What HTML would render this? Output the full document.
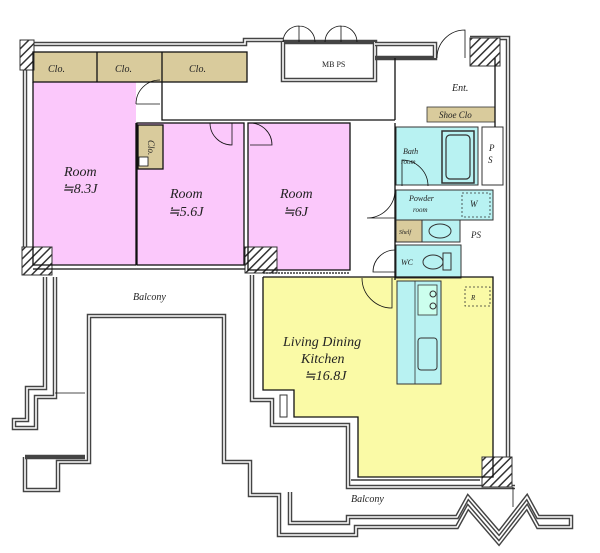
<!DOCTYPE html>
<html><head><meta charset="utf-8"><style>
html,body{margin:0;padding:0;background:#fff;}
svg{display:block}
.t{font-family:"Liberation Serif",serif;font-style:italic;fill:#222}
.w1{fill:none;stroke:#444;stroke-width:4.5}
.w2{fill:none;stroke:#fff;stroke-width:1.6}
.ln{fill:none;stroke:#111;stroke-width:1.3}
.th{fill:none;stroke:#111;stroke-width:0.8}
</style></head><body>
<svg width="600" height="553" viewBox="0 0 600 553" xmlns="http://www.w3.org/2000/svg">
<defs>
<pattern id="h" width="6" height="6" patternUnits="userSpaceOnUse" patternTransform="rotate(45)">
<rect width="6" height="6" fill="#fff"/><rect width="1.5" height="6" fill="#333"/></pattern>
</defs>

<rect x="33" y="82" width="103" height="183" fill="#fbc8fb"/>
<rect x="137" y="123" width="107" height="142" fill="#fbc8fb"/>
<rect x="248" y="123" width="102" height="147" fill="#fbc8fb"/>
<rect x="33" y="52" width="214" height="30" fill="#d9cb9c"/>
<rect x="138" y="125" width="25" height="44" fill="#d9cb9c"/>
<rect x="139" y="157" width="9" height="9" fill="#fff" stroke="#111" stroke-width="0.8"/>
<polygon points="263,277 493,277 493,477 358,477 358,417 294,417 294,390 263,390" fill="#fafaa6"/>
<rect x="427" y="107" width="68" height="15" fill="#d9cb9c" stroke="#333" stroke-width="0.8"/>
<rect x="396" y="127" width="82" height="58" fill="#b8f2f2" stroke="#333" stroke-width="1"/>
<rect x="442" y="131" width="32" height="52" fill="none" stroke="#333" stroke-width="1.5"/>
<rect x="446" y="135" width="24" height="44" rx="4" fill="none" stroke="#333" stroke-width="1.2"/>
<rect x="396" y="190" width="97" height="30" fill="#b8f2f2" stroke="#333" stroke-width="1"/>
<rect x="462" y="193" width="28" height="24" fill="none" stroke="#333" stroke-width="0.8" stroke-dasharray="2,2"/>
<rect x="396" y="220" width="26" height="22" fill="#d9cb9c" stroke="#333" stroke-width="1"/>
<rect x="422" y="220" width="38" height="22" fill="#b8f2f2" stroke="#333" stroke-width="1"/>
<ellipse cx="440" cy="231" rx="11" ry="7" fill="none" stroke="#333"/>
<rect x="396" y="245" width="65" height="33" fill="#b8f2f2" stroke="#333" stroke-width="1"/>
<ellipse cx="433" cy="262" rx="10" ry="7" fill="none" stroke="#333"/>
<rect x="443" y="253" width="8" height="17" fill="none" stroke="#333"/>
<rect x="482" y="127" width="21" height="58" fill="#fff" stroke="#333" stroke-width="1"/>
<rect x="397" y="281" width="44" height="103" fill="#b8f2f2" stroke="#333" stroke-width="1"/>
<line x1="415" y1="281" x2="415" y2="384" stroke="#333" stroke-width="0.8"/>
<rect x="418" y="285" width="19" height="30" fill="#cfe" stroke="#333" stroke-width="0.8"/>
<circle cx="433" cy="294" r="3" fill="none" stroke="#333"/><circle cx="433" cy="306" r="3" fill="none" stroke="#333"/>
<rect x="418" y="338" width="19" height="32" rx="3" fill="none" stroke="#333" stroke-width="1"/>
<rect x="465" y="287" width="25" height="19" fill="none" stroke="#333" stroke-width="0.8" stroke-dasharray="2,2"/>

<g>
<polyline class="w1" points="25,44 245,44 245,40 283,40"/><polyline class="w2" points="25,44 245,44 245,40 283,40"/>
<polyline class="w1" points="25,44 25,270"/><polyline class="w2" points="25,44 25,270"/>
<polyline class="w1" points="283,42 283,80 375,80 375,42 283,42"/><polyline class="w2" points="283,42 283,80 375,80 375,42"/>
<polyline class="w1" points="375,44 435,44 435,58 375,58"/><polyline class="w2" points="375,44 435,44 435,58"/>
<polyline class="w1" points="470,38 508,38 508,487"/><polyline class="w2" points="470,38 508,38 508,487"/>
<polyline class="w1" points="45,277 45,388 27,388 27,420 14,420 14,428 36,428 36,397 55,397 55,277"/><polyline class="w2" points="45,277 45,388 27,388 27,420 14,420 14,428 36,428 36,397 55,397 55,277"/>
<polyline class="w1" points="25,457 25,490 58,490 58,462 89,462 89,316 224,316 224,462 250,462 250,495 279,495 279,535 356,535 356,527 457,527 468,507 499,543 527,507 538,527 571,527 571,517 538,517 527,497 499,533 468,497 457,517 348,517 348,523 290,523 290,492"/>
<polyline class="w2" points="25,457 25,490 58,490 58,462 89,462 89,316 224,316 224,462 250,462 250,495 279,495 279,535 356,535 356,527 457,527 468,507 499,543 527,507 538,527 571,527 571,517 538,517 527,497 499,533 468,497 457,517 348,517 348,523 290,523 290,492"/>
<polyline class="w1" points="25,457 85,457"/>
<polyline class="w1" points="252,275 252,400 272,400 272,425 348,425 348,487 515,487"/><polyline class="w2" points="252,275 252,400 272,400 272,425 348,425 348,487 515,487"/>
<line x1="513" y1="487" x2="513" y2="507" class="th"/>
<line x1="55" y1="393" x2="85" y2="393" class="th"/>
<rect x="280" y="395" width="7" height="22" fill="#fff" stroke="#333"/>
</g>
<rect x="20" y="40" width="14" height="30" fill="url(#h)" stroke="#333"/>
<rect x="470" y="38" width="30" height="28" fill="url(#h)" stroke="#333"/>
<rect x="22" y="247" width="30" height="28" fill="url(#h)" stroke="#333"/>
<rect x="245" y="247" width="32" height="26" fill="url(#h)" stroke="#333"/>
<rect x="482" y="457" width="30" height="30" fill="url(#h)" stroke="#333"/>

<g class="ln">
<rect x="33" y="52" width="214" height="30"/>
<line x1="97" y1="52" x2="97" y2="82"/><line x1="162" y1="52" x2="162" y2="82"/>
<polyline points="33,82 33,265 136,265"/>
<polyline points="136,123 136,265"/>
<polyline points="162,82 162,120 395,120"/>
<rect x="137" y="123" width="107" height="142"/>
<rect x="248" y="123" width="102" height="147"/>
<rect x="138" y="125" width="25" height="44"/>
<polyline points="395,58 395,120"/>
<polyline points="495,58 495,127"/>
<line x1="395" y1="123" x2="395" y2="280"/>
<polyline points="263,277 263,390 294,390 294,417 358,417 358,477 493,477 493,277 263,277"/>
<line x1="33" y1="269" x2="245" y2="269"/>
<line x1="263" y1="273" x2="350" y2="273" stroke-dasharray="2,1"/>
<line x1="351" y1="480" x2="480" y2="480"/>
</g>
<g class="th">
<path d="M160,80 A24,24 0 0 0 136,104"/><line x1="136" y1="104" x2="160" y2="104"/>
<path d="M210,123 A22,22 0 0 0 232,145 L232,123"/>
<path d="M250,123 A22,22 0 0 1 272,145 L250,145"/>
<path d="M283,42 A16,16 0 0 1 299,26 L299,42 M315,42 A16,16 0 0 0 299,26"/>
<path d="M325,42 A16,16 0 0 1 341,26 L341,42 M357,42 A16,16 0 0 0 341,26"/>
<path d="M437,58 A28,28 0 0 1 465,30 L465,58"/>
<path d="M395,190 A28,28 0 0 1 367,218 L395,218"/>
<path d="M395,250 A22,22 0 0 0 373,272 L395,272"/>
<path d="M402,186 L402,160 A26,26 0 0 1 428,186"/>
<path d="M362,278 A30,30 0 0 0 392,308 L392,278"/>
</g>

<g class="t">
<text x="48" y="72" font-size="10">Clo.</text>
<text x="115" y="72" font-size="10">Clo.</text>
<text x="189" y="72" font-size="10">Clo.</text>
<text x="322" y="67" font-size="8" font-style="normal">MB PS</text>
<text x="452" y="91" font-size="10">Ent.</text>
<text x="439" y="118" font-size="9">Shoe Clo</text>
<text x="403" y="154" font-size="8">Bath</text>
<text x="401" y="164" font-size="7">room</text>
<text x="489" y="151" font-size="9">P</text><text x="488" y="163" font-size="9">S</text>
<text x="409" y="201" font-size="8">Powder</text>
<text x="413" y="212" font-size="7">room</text>
<text x="470" y="207" font-size="9">W</text>
<text x="399" y="234" font-size="6">Shelf</text>
<text x="471" y="238" font-size="9">PS</text>
<text x="401" y="265" font-size="8">WC</text>
<text x="471" y="300" font-size="7">R</text>
<text x="148" y="140" font-size="9" transform="rotate(90 148 140)">Clo.</text>
<text x="64" y="176" font-size="14">Room</text>
<text x="62" y="193" font-size="14">≒8.3J</text>
<text x="170" y="198" font-size="14">Room</text>
<text x="168" y="216" font-size="14">≒5.6J</text>
<text x="280" y="198" font-size="14">Room</text>
<text x="283" y="216" font-size="14">≒6J</text>
<text x="133" y="300" font-size="10">Balcony</text>
<text x="351" y="502" font-size="10">Balcony</text>
<text x="283" y="346" font-size="14">Living Dining</text>
<text x="301" y="363" font-size="14">Kitchen</text>
<text x="304" y="380" font-size="14">≒16.8J</text>
</g>
</svg>
</body></html>
